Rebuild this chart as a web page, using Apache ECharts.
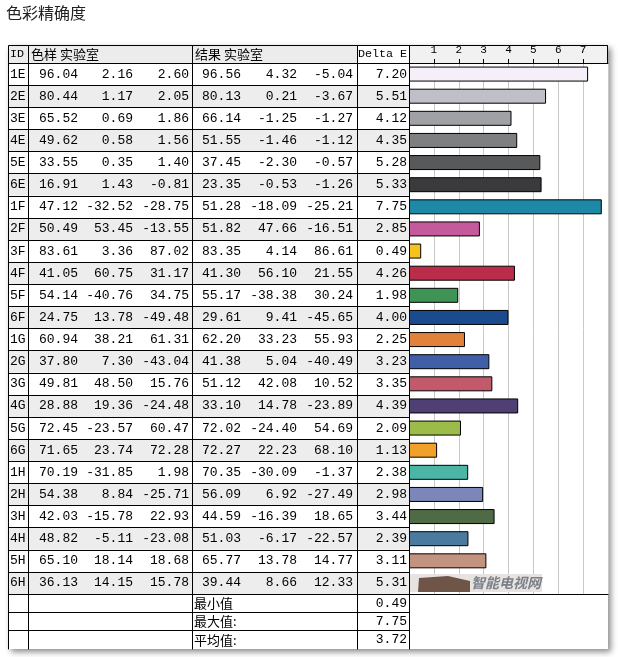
<!DOCTYPE html>
<html><head><meta charset="utf-8">
<script src="https://cdn.jsdelivr.net/npm/echarts@6/dist/echarts.min.js"></script>
<style>html,body{margin:0;padding:0;background:#fff}#c{width:618px;height:657px}</style>
</head><body><div id="c"></div>
<script>
// ---------- data ----------
const ids = ['1E','2E','3E','4E','5E','6E','1F','2F','3F','4F','5F','6F','1G','2G','3G','4G','5G','6G','1H','2H','3H','4H','5H','6H'];
const sampleL = [96.04,80.44,65.52,49.62,33.55,16.91,47.12,50.49,83.61,41.05,54.14,24.75,60.94,37.80,49.81,28.88,72.45,71.65,70.19,54.38,42.03,48.82,65.10,36.13];
const sampleA = [2.16,1.17,0.69,0.58,0.35,1.43,-32.52,53.45,3.36,60.75,-40.76,13.78,38.21,7.30,48.50,19.36,-23.57,23.74,-31.85,8.84,-15.78,-5.11,18.14,14.15];
const sampleB = [2.60,2.05,1.86,1.56,1.40,-0.81,-28.75,-13.55,87.02,31.17,34.75,-49.48,61.31,-43.04,15.76,-24.48,60.47,72.28,1.98,-25.71,22.93,-23.08,18.68,15.78];
const resultL = [96.56,80.13,66.14,51.55,37.45,23.35,51.28,51.82,83.35,41.30,55.17,29.61,62.20,41.38,51.12,33.10,72.02,72.27,70.35,56.09,44.59,51.03,65.77,39.44];
const resultA = [4.32,0.21,-1.25,-1.46,-2.30,-0.53,-18.09,47.66,4.14,56.10,-38.38,9.41,33.23,5.04,42.08,14.78,-24.40,22.23,-30.09,6.92,-16.39,-6.17,13.78,8.66];
const resultB = [-5.04,-3.67,-1.27,-1.12,-0.57,-1.26,-25.21,-16.51,86.61,21.55,30.24,-45.65,55.93,-40.49,10.52,-23.89,54.69,68.10,-1.37,-27.49,18.65,-22.57,14.77,12.33];
const deltaE  = [7.20,5.51,4.12,4.35,5.28,5.33,7.75,2.85,0.49,4.26,1.98,4.00,2.25,3.23,3.35,4.39,2.09,1.13,2.38,2.98,3.44,2.39,3.11,5.31];
const footerLabels = ['最小值','最大值:','平均值:'];
const footerValues = [0.49, 7.75, 3.72];
const headerLabels = ['ID','色样 实验室','结果 实验室','Delta E'];
const titleText = '色彩精确度';

// ---------- styles ----------
const barColors = ['#f4eff9','#bfc0c7','#a0a1a4','#7e7f81','#57595a','#3a3a3c','#1d89a6','#c45a9c','#f5c41c','#bb2c4b','#3d9455','#1b4b8f','#e2823a','#415fa6','#c25a6c','#503f72','#9cbb48','#f1a12a','#4bb5a6','#7c86b8','#4e6b45','#4a7a9e','#c2937f','#6f5548'];
const MONO = "'Liberation Mono','Noto Sans CJK SC',monospace";
const CJK = "'Noto Sans CJK SC',sans-serif";
const TL = 8;            // table left
const fmt = v => v.toFixed(2);

function colAxis(gridIndex, cats, x, texts, o) {
  o = o || {};
  const ax = {
    type: 'category', gridIndex: gridIndex, data: cats, inverse: true,
    position: o.right ? 'right' : 'left',
    offset: o.right ? 0 : -(x - TL),
    axisLine: { show: !!o.line, lineStyle: { color: '#000', width: 1 } },
    axisTick: { show: false },
    axisLabel: {
      show: !!texts, interval: 0, margin: o.margin == null ? 2 : o.margin, inside: !!o.inside,
      color: '#000', fontFamily: o.font || MONO, fontSize: 13,
      formatter: v => texts ? texts[cats.indexOf(v)] : ''
    },
    splitLine: { show: false }, splitArea: { show: false }
  };
  if (o.split) {
    ax.splitLine = { show: true, showMaxLine: o.showMax !== false, lineStyle: { color: '#000', width: 1 } };
  }
  if (o.area) {
    ax.splitArea = { show: true, areaStyle: { color: ['#ffffff', '#ededed'] } };
  }
  return ax;
}

const footCats = footerLabels.map((_, i) => 'f' + i);

const yAxes = [
  // grid 0: table body
  colAxis(0, ids, 8, ids, { line: true, inside: true, margin: 2, split: true, area: true }),
  colAxis(0, ids, 28, null, { line: true }),
  colAxis(0, ids, 80, sampleL.map(fmt)),
  colAxis(0, ids, 135, sampleA.map(fmt)),
  colAxis(0, ids, 192, sampleB.map(fmt), { line: true, margin: 3 }),
  colAxis(0, ids, 243, resultL.map(fmt)),
  colAxis(0, ids, 299, resultA.map(fmt)),
  colAxis(0, ids, 357, resultB.map(fmt), { line: true, margin: 4 }),
  colAxis(0, ids, 409, deltaE.map(fmt), { right: true, inside: true, line: true, margin: 2 }),
  // grid 1: bars
  { type: 'category', gridIndex: 1, data: ids, inverse: true, show: false },
  // grid 2: footer
  colAxis(2, footCats, 8, null, { line: true, split: true, showMax: false }),
  colAxis(2, footCats, 28, null, { line: true }),
  colAxis(2, footCats, 192, footerLabels, { line: true, inside: true, margin: 2, font: CJK }),
  colAxis(2, footCats, 357, null, { line: true }),
  colAxis(2, footCats, 409, footerValues.map(fmt), { right: true, inside: true, line: true, margin: 2 })
];

const xAxes = [
  { type: 'value', gridIndex: 0, show: false, min: 0, max: 1 },
  { type: 'value', gridIndex: 1, position: 'top', min: 0, max: 8, interval: 1, z: 10,
    axisLine: { show: true, lineStyle: { color: '#000', width: 1 } },
    axisTick: { show: true, inside: false, length: 4, lineStyle: { color: '#000' } },
    axisLabel: { show: true, margin: 7, color: '#000', fontFamily: MONO, fontSize: 11,
      showMinLabel: false, showMaxLabel: false, formatter: v => (v > 0 && v < 8) ? String(v) : '' },
    splitLine: { show: false } },
  { type: 'value', gridIndex: 1, position: 'bottom', min: 0, max: 8, interval: 1,
    axisLine: { show: true, lineStyle: { color: '#000', width: 1 } },
    axisTick: { show: false }, axisLabel: { show: false },
    splitLine: { show: true, lineStyle: { color: '#c8c8c8', width: 1 } } },
  { type: 'value', gridIndex: 2, show: false, min: 0, max: 1 }
];

const hdrFont = "11.7px " + MONO;
const chart = echarts.init(document.getElementById('c'), null, { renderer: 'canvas' });
chart.setOption({
  animation: false,
  backgroundColor: '#ffffff',
  title: { text: titleText, left: 6, top: 5, padding: 0,
    textStyle: { fontSize: 16, fontWeight: 'normal', color: '#222', fontFamily: CJK } },
  grid: [
    { left: 8, top: 63, width: 401, height: 531, containLabel: false, outerBoundsMode: 'none' },
    { left: 409, top: 63, width: 199, height: 531, containLabel: false, outerBoundsMode: 'none' },
    { left: 8, top: 594, width: 401, height: 55, containLabel: false, outerBoundsMode: 'none' }
  ],
  xAxis: xAxes,
  yAxis: yAxes,
  series: [{
    type: 'bar', xAxisIndex: 1, yAxisIndex: 9, barWidth: 15,
    data: deltaE.map((v, i) => ({ value: v, itemStyle: { color: barColors[i] } })),
    itemStyle: { borderColor: '#000', borderWidth: 1 },
    emphasis: { disabled: true }, silent: true
  }],
  graphic: [
    { type: 'rect', z: -5, silent: true, shape: { x: 8, y: 45, width: 600, height: 604 },
      style: { fill: '#fff', shadowBlur: 6, shadowOffsetX: 3, shadowOffsetY: 3, shadowColor: 'rgba(0,0,0,0.45)' } },
    { type: 'rect', z: 5, silent: true, shape: { x: 8.5, y: 45.5, width: 599, height: 18 },
      style: { fill: '#ececec', stroke: '#000', lineWidth: 1 } },
    { type: 'rect', z: 5, silent: true, shape: { x: 409.5, y: 45.5, width: 198, height: 18 },
      style: { fill: '#f1f1f1', stroke: '#000', lineWidth: 1 } },
    { type: 'rect', z: 5, silent: true, shape: { x: 357.5, y: 45.5, width: 52, height: 18 },
      style: { fill: '#fff', stroke: '#000', lineWidth: 1 } },
    { type: 'line', z: 6, silent: true, shape: { x1: 28.5, y1: 45, x2: 28.5, y2: 64 }, style: { stroke: '#000', lineWidth: 1 } },
    { type: 'line', z: 6, silent: true, shape: { x1: 192.5, y1: 45, x2: 192.5, y2: 64 }, style: { stroke: '#000', lineWidth: 1 } },
    { type: 'text', z: 7, silent: true, x: 10, y: 54, style: { text: headerLabels[0], font: hdrFont, fill: '#000', verticalAlign: 'middle' } },
    { type: 'text', z: 7, silent: true, x: 31, y: 54, style: { text: headerLabels[1], font: "13px " + CJK, fill: '#000', verticalAlign: 'middle' } },
    { type: 'text', z: 7, silent: true, x: 195, y: 54, style: { text: headerLabels[2], font: "13px " + CJK, fill: '#000', verticalAlign: 'middle' } },
    { type: 'text', z: 7, silent: true, x: 358, y: 54, style: { text: headerLabels[3], font: hdrFont, fill: '#000', verticalAlign: 'middle' } },
    // watermark overlay
    { type: 'rect', z: 20, silent: true, shape: { x: 410, y: 574, width: 132, height: 18 }, style: { fill: '#e7e3e0' } },
    { type: 'polygon', z: 21, silent: true, shape: { points: [[418, 592], [419, 578], [448, 576], [470, 581], [470, 592]] }, style: { fill: '#6f5548' } },
    { type: 'text', z: 21, silent: true, x: 471, y: 583, style: { text: '智能电视网', font: "italic bold 14px " + CJK, fill: '#7b808a', verticalAlign: 'middle' } }
  ]
});
</script></body></html>
